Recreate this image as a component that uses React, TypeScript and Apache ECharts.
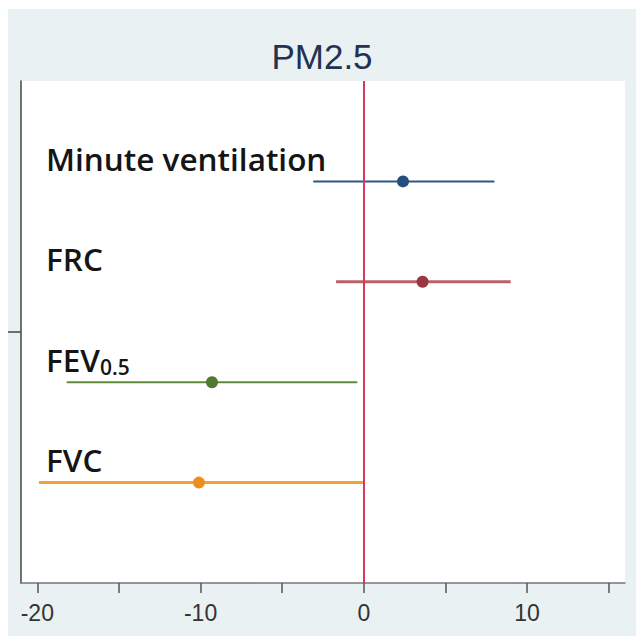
import React, { useEffect, useRef } from "react";
import * as echarts from "echarts";

const categories = ["Minute ventilation", "FRC", "FEV0.5", "FVC"];
const labelTexts = ["Minute ventilation", "FRC", "FEV{sub|0.5}", "FVC"];
const rowPositions = [4, 3, 2, 1];
const estimates = [2.4, 3.6, -9.3, -10.1];
const lowerCI = [-3.1, -1.7, -18.2, -19.9];
const upperCI = [8.0, 9.0, -0.4, 0.0];
const lineColors = ["#2b5884", "#b8616b", "#5f8a3c", "#f4a236"];
const dotColors = ["#244f7c", "#983642", "#52792f", "#ef8e1c"];
const lineWidths = [2, 3, 2, 3];
const xTicks = [-20, -15, -10, -5, 0, 5, 10, 15];
const xLabels = [-20, -10, 0, 10];
const yTicks = [2.5];

export default function App() {
  const ref = useRef<HTMLDivElement>(null);
  useEffect(() => {
    if (!ref.current) return;
    const chart = echarts.init(ref.current, undefined, { renderer: "svg" });
    const data = categories.map((_, i) => [estimates[i], rowPositions[i], lowerCI[i], upperCI[i]]);
    chart.setOption({
      animation: false,
      backgroundColor: "#e9f1f3",
      title: {
        text: "PM2.5",
        left: "center",
        top: 25,
        textStyle: { fontFamily: "Liberation Sans", fontSize: 35, fontWeight: "normal", color: "#243150" },
      },
      grid: { left: 13, right: 11, top: 72, bottom: 53, show: true, backgroundColor: "#ffffff", borderWidth: 0 },
      xAxis: {
        type: "value",
        min: -21,
        max: 16,
        splitLine: { show: false },
        axisLine: { show: true, onZero: false, lineStyle: { color: "#777", width: 1.5 } },
        axisTick: { show: true, customValues: xTicks, length: 10, lineStyle: { color: "#555", width: 1.5 } },
        axisLabel: {
          customValues: xLabels,
          margin: 18,
          fontFamily: "Liberation Sans",
          fontSize: 23,
          color: "#333",
        },
      },
      yAxis: {
        type: "value",
        min: 0,
        max: 5,
        splitLine: { show: false },
        axisLine: { show: true, onZero: false, lineStyle: { color: "#444", width: 1.5 } },
        axisTick: { show: true, customValues: yTicks, length: 13, lineStyle: { color: "#444", width: 1.5 } },
        axisLabel: { show: false },
      },
      series: [
        {
          type: "custom",
          data,
          encode: { x: [0, 2, 3], y: 1 },
          renderItem: (params: any, api: any) => {
            const idx = params.dataIndex;
            const est = api.value(0);
            const row = api.value(1);
            const lo = api.value(2);
            const hi = api.value(3);
            const pLo = api.coord([lo, row]);
            const pHi = api.coord([hi, row]);
            const pE = api.coord([est, row]);
            return {
              type: "group",
              children: [
                {
                  type: "line",
                  shape: { x1: pLo[0], y1: pLo[1], x2: pHi[0], y2: pHi[1] },
                  style: { stroke: lineColors[idx], lineWidth: lineWidths[idx] },
                },
                {
                  type: "circle",
                  shape: { cx: pE[0], cy: pE[1], r: 6 },
                  style: { fill: dotColors[idx] },
                },
                {
                  type: "text",
                  x: params.coordSys.x + 25,
                  y: pE[1] - 23,
                  style: {
                    text: labelTexts[idx],
                    fill: "#151515",
                    fontFamily: "Open Sans",
                    fontWeight: 600,
                    fontSize: 31.5,
                    verticalAlign: "middle",
                    align: "left",
                    rich: {
                      sub: { fontFamily: "Open Sans", fontWeight: 600, fontSize: 21, fill: "#151515", verticalAlign: "bottom", padding: [16, 0, 0, 0] },
                    },
                  },
                },
              ],
            };
          },
          markLine: {
            silent: true,
            symbol: "none",
            label: { show: false },
            lineStyle: { color: "#d9385e", width: 2, type: "solid" },
            data: [{ xAxis: 0 }],
          },
          z: 3,
        },
      ],
    });
    return () => chart.dispose();
  }, []);
  return (
    <div
      ref={ref}
      style={{ position: "absolute", left: 8, top: 9, width: 628, height: 627 }}
    />
  );
}
